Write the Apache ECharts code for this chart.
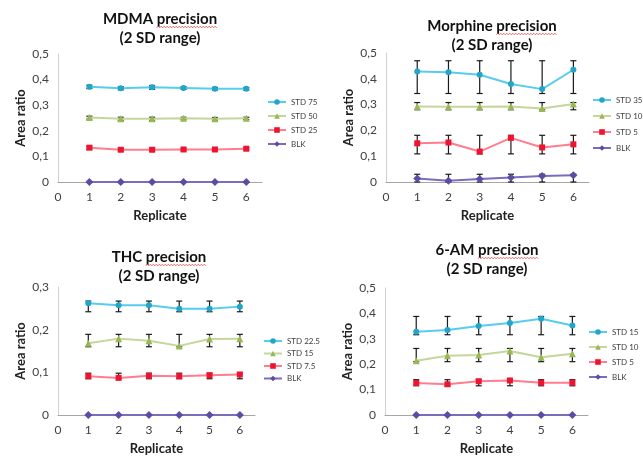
<!DOCTYPE html>
<html><head><meta charset="utf-8">
<script src="https://cdn.jsdelivr.net/npm/echarts@6/dist/echarts.min.js"></script>
<style>html,body{margin:0;padding:0;background:#fff}#c{width:643px;height:458px}</style>
</head><body><div id="c"></div>
<script>
// ---- shared ----
const replicates = [1, 2, 3, 4, 5, 6];
const xTickLabels = ['0', '1', '2', '3', '4', '5', '6'];
const yTickLabels = ['0', '0,1', '0,2', '0,3', '0,4', '0,5'];

// ---- MDMA ----
const mdmaNames = ['STD 75', 'STD 50', 'STD 25', 'BLK'];
const mdmaStd75 = [0.372, 0.366, 0.370, 0.367, 0.364, 0.364];
const mdmaStd50 = [0.252, 0.247, 0.247, 0.249, 0.247, 0.249];
const mdmaStd25 = [0.134, 0.126, 0.126, 0.127, 0.127, 0.130];
const mdmaBlk   = [0, 0, 0, 0, 0, 0];
const mdmaStd75Lo = [0.365, 0.360, 0.362, 0.362, 0.359, 0.359];
const mdmaStd75Hi = [0.378, 0.372, 0.377, 0.372, 0.369, 0.369];
const mdmaStd50Lo = [0.246, 0.241, 0.241, 0.244, 0.242, 0.244];
const mdmaStd50Hi = [0.257, 0.253, 0.253, 0.253, 0.252, 0.253];
const mdmaStd25Lo = [0.128, 0.121, 0.121, 0.123, 0.123, 0.126];
const mdmaStd25Hi = [0.140, 0.131, 0.131, 0.131, 0.131, 0.134];

// ---- Morphine ----
const morNames = ['STD 35', 'STD 10', 'STD 5', 'BLK'];
const morStd35 = [0.428, 0.425, 0.416, 0.380, 0.360, 0.435];
const morStd10 = [0.293, 0.292, 0.292, 0.293, 0.285, 0.302];
const morStd5  = [0.150, 0.153, 0.118, 0.171, 0.134, 0.146];
const morBlk   = [0.014, 0.005, 0.012, 0.017, 0.023, 0.026];
const morStd35Lo = [0.343, 0.343, 0.343, 0.343, 0.343, 0.343];
const morStd35Hi = [0.470, 0.470, 0.470, 0.470, 0.470, 0.470];
const morStd10Lo = [0.280, 0.280, 0.280, 0.280, 0.280, 0.280];
const morStd10Hi = [0.308, 0.308, 0.308, 0.308, 0.308, 0.308];
const morStd5Lo  = [0.109, 0.109, 0.109, 0.109, 0.109, 0.109];
const morStd5Hi  = [0.181, 0.181, 0.181, 0.181, 0.181, 0.181];
const morBlkLo   = [0.000, 0.000, 0.000, 0.000, 0.000, 0.000];
const morBlkHi   = [0.030, 0.030, 0.030, 0.030, 0.030, 0.030];

// ---- THC ----
const thcNames = ['STD 22.5', 'STD 15', 'STD 7.5', 'BLK'];
const thcStd225 = [0.262, 0.257, 0.257, 0.249, 0.249, 0.254];
const thcStd15  = [0.168, 0.179, 0.174, 0.162, 0.178, 0.179];
const thcStd75  = [0.091, 0.087, 0.092, 0.091, 0.093, 0.095];
const thcBlk    = [0, 0, 0, 0, 0, 0];
const thcStd225Lo = [0.242, 0.242, 0.242, 0.242, 0.242, 0.242];
const thcStd225Hi = [0.267, 0.267, 0.267, 0.267, 0.267, 0.267];
const thcStd15Lo  = [0.160, 0.160, 0.160, 0.160, 0.160, 0.160];
const thcStd15Hi  = [0.189, 0.189, 0.189, 0.189, 0.189, 0.189];
const thcStd75Lo  = [0.085, 0.085, 0.085, 0.085, 0.085, 0.085];
const thcStd75Hi  = [0.098, 0.098, 0.098, 0.098, 0.098, 0.098];

// ---- 6-AM ----
const amNames = ['STD 15', 'STD 10', 'STD 5', 'BLK'];
const amStd15 = [0.328, 0.335, 0.350, 0.362, 0.379, 0.352];
const amStd10 = [0.214, 0.233, 0.236, 0.252, 0.227, 0.241];
const amStd5  = [0.126, 0.121, 0.133, 0.136, 0.127, 0.127];
const amBlk   = [0, 0, 0, 0, 0, 0];
const amStd15Lo = [0.316, 0.316, 0.316, 0.316, 0.316, 0.316];
const amStd15Hi = [0.388, 0.388, 0.388, 0.388, 0.388, 0.388];
const amStd10Lo = [0.210, 0.210, 0.210, 0.210, 0.210, 0.210];
const amStd10Hi = [0.262, 0.262, 0.262, 0.262, 0.262, 0.262];
const amStd5Lo  = [0.115, 0.115, 0.115, 0.115, 0.115, 0.115];
const amStd5Hi  = [0.139, 0.139, 0.139, 0.139, 0.139, 0.139];

// ---- styling / layout ----
const FONT = 'Lato';
const TITLE_SIZE = 15;
const styles = [
  { line: '#57CCEF', mark: '#22A6C8', symbol: 'circle', size: 6 },
  { line: '#C3D69B', mark: '#98B854', symbol: 'triangle', size: 7 },
  { line: '#FF7D8E', mark: '#EE1430', symbol: 'rect', size: 6 },
  { line: '#7B6CBD', mark: '#5B4CA4', symbol: 'diamond', size: 8 }
];

const panels = [
  { key: 'mdma', line1: 'MDMA precision', prefix: 'MDMA ', line2: '(2 SD range)', names: mdmaNames,
    values: [mdmaStd75, mdmaStd50, mdmaStd25, mdmaBlk],
    errs: [[mdmaStd75Lo, mdmaStd75Hi], [mdmaStd50Lo, mdmaStd50Hi], [mdmaStd25Lo, mdmaStd25Hi], null],
    yMax: 0.5,
    grid: { left: 58, top: 54, width: 204, height: 128 }, titlePos: [160, 10],
    legend: { left: 267, top: 97, gap: 4 } },
  { key: 'mor', line1: 'Morphine precision', prefix: 'Morphine ', line2: '(2 SD range)', names: morNames,
    values: [morStd35, morStd10, morStd5, morBlk],
    errs: [[morStd35Lo, morStd35Hi], [morStd10Lo, morStd10Hi], [morStd5Lo, morStd5Hi], [morBlkLo, morBlkHi]],
    yMax: 0.5,
    grid: { left: 386, top: 53, width: 203, height: 129 }, titlePos: [492, 17],
    legend: { left: 592, top: 95, gap: 6 } },
  { key: 'thc', line1: 'THC precision', prefix: 'THC ', line2: '(2 SD range)', names: thcNames,
    values: [thcStd225, thcStd15, thcStd75, thcBlk],
    errs: [[thcStd225Lo, thcStd225Hi], [thcStd15Lo, thcStd15Hi], [thcStd75Lo, thcStd75Hi], null],
    yMax: 0.3,
    grid: { left: 58, top: 287, width: 197, height: 128 }, titlePos: [159, 248],
    legend: { left: 263, top: 336, gap: 2.5 } },
  { key: 'am', line1: '6-AM precision', prefix: '6-AM ', line2: '(2 SD range)', names: amNames,
    values: [amStd15, amStd10, amStd5, amBlk],
    errs: [[amStd15Lo, amStd15Hi], [amStd10Lo, amStd10Hi], [amStd5Lo, amStd5Hi], null],
    yMax: 0.5,
    grid: { left: 385, top: 288, width: 203, height: 127 }, titlePos: [487, 241],
    legend: { left: 588, top: 327, gap: 5 } }
];

function errRender(params, api) {
  const x = api.value(0), lo = api.value(1), hi = api.value(2);
  const a = api.coord([x, lo]), b = api.coord([x, hi]);
  const c = 3, st = { stroke: '#1a1a1a', lineWidth: 1.2 };
  return { type: 'group', children: [
    { type: 'line', shape: { x1: a[0], y1: a[1], x2: b[0], y2: b[1] }, style: st },
    { type: 'line', shape: { x1: a[0] - c, y1: a[1], x2: a[0] + c, y2: a[1] }, style: st },
    { type: 'line', shape: { x1: b[0] - c, y1: b[1], x2: b[0] + c, y2: b[1] }, style: st }
  ]};
}

// measure text for the spell-check squiggle under "precision"
const mctx = document.createElement('canvas').getContext('2d');
mctx.font = 'bold ' + TITLE_SIZE + 'px ' + FONT;
function squiggle(p) {
  const full = mctx.measureText(p.line1).width;
  const pre = mctx.measureText(p.prefix).width;
  const x0 = p.titlePos[0] - full / 2 + pre;
  const x1 = p.titlePos[0] + full / 2;
  const y = p.titlePos[1] + 17;
  const pts = [];
  let k = 0;
  for (let x = x0; x <= x1; x += 1.5, k++) pts.push([x, y + (k % 2 ? -0.8 : 0.8)]);
  return { type: 'polyline', shape: { points: pts }, silent: true, z: 100,
    style: { stroke: '#E8453C', lineWidth: 0.8, fill: null } };
}

const option = { backgroundColor: '#fff', animation: false,
  title: [], grid: [], xAxis: [], yAxis: [], legend: [], series: [], graphic: [] };

panels.forEach((p, gi) => {
  option.title.push({ text: p.line1 + '\n' + p.line2, left: p.titlePos[0], top: p.titlePos[1],
    textAlign: 'center', padding: 0,
    textStyle: { fontFamily: FONT, fontSize: TITLE_SIZE, fontWeight: 'bold', color: '#111', lineHeight: 19 } });
  option.graphic.push(squiggle(p));
  option.grid.push(Object.assign({ containLabel: false }, p.grid));
  option.xAxis.push({ gridIndex: gi, type: 'value', min: 0, max: 6.5, interval: 1,
    name: 'Replicate', nameLocation: 'middle', nameGap: 27,
    nameTextStyle: { fontFamily: FONT, fontSize: 13, fontWeight: 'bold', color: '#222' },
    axisLine: { lineStyle: { color: '#A6A6A6', width: 1 } }, axisTick: { show: false },
    splitLine: { show: false },
    axisLabel: { fontFamily: FONT, fontSize: 12, color: '#404040', margin: 9,
      formatter: v => Number.isInteger(v) ? xTickLabels[v] : '' } });
  option.yAxis.push({ gridIndex: gi, type: 'value', min: 0, max: p.yMax, interval: 0.1,
    name: 'Area ratio', nameLocation: 'middle', nameGap: 31, nameRotate: 90,
    nameTextStyle: { fontFamily: FONT, fontSize: 13, fontWeight: 'bold', color: '#222' },
    axisLine: { show: true, lineStyle: { color: '#D0D0D0', width: 1 } }, axisTick: { show: false },
    splitLine: { show: false },
    axisLabel: { fontFamily: FONT, fontSize: 12, color: '#404040', margin: 9,
      formatter: v => yTickLabels[Math.round(v * 10)] } });
  option.legend.push({ orient: 'vertical', left: p.legend.left, top: p.legend.top, padding: 0,
    itemWidth: 18, itemHeight: 7, itemGap: p.legend.gap,
    data: p.names.map(nm => p.key + '|' + nm),
    formatter: n => n.split('|')[1],
    selectedMode: false,
    textStyle: { fontFamily: FONT, fontSize: 8, color: '#404040', lineHeight: 10 } });
  p.names.forEach((nm, si) => {
    const s = styles[si];
    if (p.errs[si]) {
      const lo = p.errs[si][0], hi = p.errs[si][1];
      option.series.push({ type: 'custom', xAxisIndex: gi, yAxisIndex: gi, z: 2,
        renderItem: errRender, silent: true,
        data: replicates.map((x, i) => [x, lo[i], hi[i]]), encode: { x: 0, y: [1, 2] } });
    }
    option.series.push({ name: p.key + '|' + nm, type: 'line', xAxisIndex: gi, yAxisIndex: gi, z: 3,
      data: replicates.map((x, i) => [x, p.values[si][i]]),
      symbol: s.symbol, symbolSize: s.size, showSymbol: true,
      lineStyle: { color: s.line, width: 2 }, itemStyle: { color: s.mark } });
  });
});

const chart = echarts.init(document.getElementById('c'), null, { renderer: 'canvas' });
chart.setOption(option);
</script></body></html>
